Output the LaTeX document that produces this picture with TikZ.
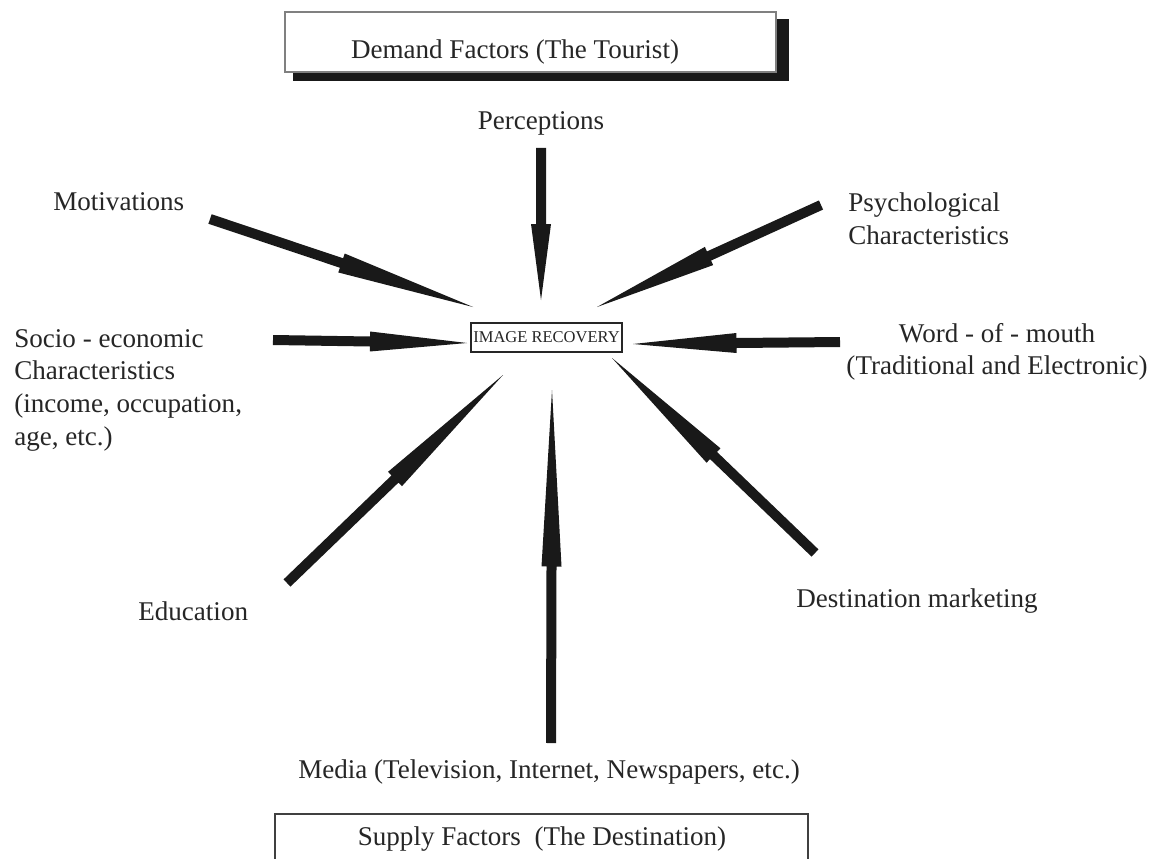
\documentclass[tikz,border=0pt]{standalone}
\usepackage{fontspec}
\setmainfont{Liberation Serif}
\usetikzlibrary{calc,positioning}
\tikzset{
  factor/.style={font=\fontsize{15.4}{18.6}\selectfont, text=black!85, inner sep=0pt},
  core/.style={draw=black!85, line width=1pt, text=black!85, font=\fontsize{9.4}{11}\selectfont,
    minimum height=0.58cm, inner xsep=0.05cm},
  arrowfill/.style={fill=black!90}
}
% fat arrow: straight shaft, long tapering head on the second half
\newcommand{\feed}[2]{%
  \coordinate (mid) at ($(#1)!0.5!(#2)$);
  \fill[arrowfill] ($(#1)!0.1cm!-90:(#2)$) -- ($(mid)!0.1cm!90:(#1)$) -- ($(mid)!0.2cm!90:(#1)$)
    -- (#2) -- ($(mid)!0.2cm!-90:(#1)$) -- ($(mid)!0.1cm!-90:(#1)$) -- ($(#1)!0.1cm!90:(#2)$) -- cycle;
}

\begin{document}
\begin{tikzpicture}[x=0.02cm,y=-0.02cm]
\clip (0,0) rectangle (1158,858);
\fill[white] (0,0) rectangle (1158,858);

% demand box with its shadow
\fill[black!90] (293,19) rectangle (789,81);
\draw[black!50, line width=0.6pt, fill=white] (285,12) rectangle (776,72);
\node[factor] (demand) at (515,52) {Demand Factors (The Tourist)};

% supply box
\draw[black!75, line width=1pt] (275,814) rectangle (808,880);
\node[factor] (supply) at (542,839) {Supply Factors\ \ (The Destination)};

\node[core] (core) at (546.5,337.5) {IMAGE RECOVERY};

\node[factor] (per) at (541,123) {Perceptions};
\node[factor, anchor=west] (mot) at (53,202) {Motivations};
\node[factor, anchor=west, align=left] (psy) at (848,219) {Psychological\\Characteristics};
\node[factor, anchor=west, align=left] (soc) at (14,390) {Socio - economic\\Characteristics\\(income, occupation,\\age, etc.)};
\node[factor, align=center] (wom) at (997,352) {Word - of - mouth\\(Traditional and Electronic)};
\node[factor, anchor=west] (edu) at (138,611) {Education};
\node[factor] (dst) at (917,601) {Destination marketing};
\node[factor] (med) at (549,772) {Media (Television, Internet, Newspapers, etc.)};

\coordinate (per-tail) at (541,148);
\coordinate (per-tip) at (541,300);
\coordinate (mot-tail) at (210,219);
\coordinate (mot-tip) at (473,307);
\coordinate (psy-tail) at (821,205);
\coordinate (psy-tip) at (597,307);
\coordinate (soc-tail) at (273,340);
\coordinate (soc-tip) at (467,343);
\coordinate (wom-tail) at (840,342);
\coordinate (wom-tip) at (633,344);
\coordinate (edu-tail) at (287,583);
\coordinate (edu-tip) at (503,375);
\coordinate (med-tail) at (551,743);
\coordinate (med-tip) at (552,390);
\coordinate (dst-tail) at (815,553);
\coordinate (dst-tip) at (612,358);

\foreach \f in {per,mot,psy,soc,wom,edu,med,dst}
  \feed{\f-tail}{\f-tip};
\end{tikzpicture}
\end{document}
